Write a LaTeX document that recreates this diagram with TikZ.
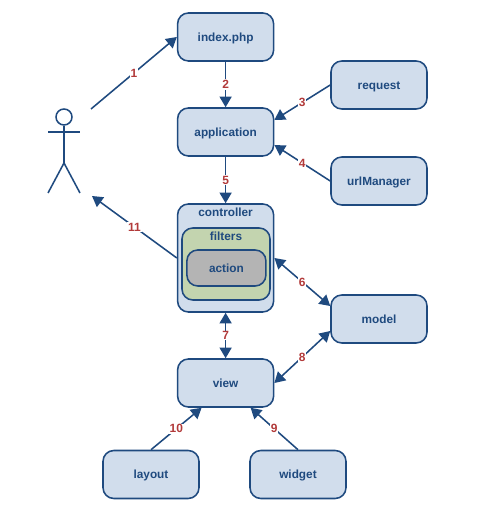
\documentclass[tikz,border=0pt]{standalone}
\usepackage{fontspec}
\setmainfont{Liberation Sans}
\usetikzlibrary{arrows.meta}
\definecolor{myblue}{HTML}{1F4A7F}
\definecolor{myfill}{HTML}{D1DDEC}
\definecolor{mygreen}{HTML}{C3D4AF}
\definecolor{mygray}{HTML}{B4B4B4}
\definecolor{myred}{HTML}{B23A3A}
\begin{document}
\begin{tikzpicture}[
    mybox/.style={draw=myblue, fill=myfill, line width=1.1pt, rounded corners=0.27cm, text=myblue,
        font=\fontsize{8.4}{10}\selectfont\bfseries, minimum width=2.4cm, minimum height=1.2cm, inner sep=0pt,
        text height=7pt, text depth=1.2pt},
    mytitle/.style={text=myblue, font=\fontsize{8.4}{10}\selectfont\bfseries, inner sep=0pt},
    myline/.style={draw=myblue, line width=1.1pt},
    myarrow/.style={myline, -{Triangle[length=7.5pt, width=8.5pt]}},
    mytwoway/.style={myline, {Triangle[length=7.5pt, width=8.5pt]}-{Triangle[length=7.5pt, width=8.5pt]}},
    mylabel/.style={fill=white, text=myred, font=\fontsize{8.5}{10}\selectfont\bfseries, inner sep=0.6pt}
]
    \useasboundingbox (0, 0) rectangle (12.375, 13.25);

    % Boxes
    \node[mybox] (index) at (5.64, 12.325) {index.php};
    \node[mybox] (application) at (5.64, 9.95) {application};
    \node[mybox] (request) at (9.475, 11.125) {request};
    \node[mybox] (urlmanager) at (9.475, 8.725) {urlManager};
    \node[mybox] (model) at (9.475, 5.275) {model};
    \node[mybox] (view) at (5.64, 3.675) {view};
    \node[mybox] (layout) at (3.775, 1.3875) {layout};
    \node[mybox] (widget) at (7.45, 1.3875) {widget};

    % Controller with its nested boxes
    \node[mybox, minimum height=2.7cm] (controller) at (5.64, 6.8) {};
    \node[mybox, fill=mygreen, minimum width=2.2cm, minimum height=1.8cm] (filters) at (5.65, 6.65) {};
    \node[mybox, fill=mygray, minimum width=1.975cm, minimum height=0.9cm] (action) at (5.66, 6.55) {action};
    \node[mytitle] (controllertitle) at (5.64, 7.95) {controller};
    \node[mytitle] (filterstitle) at (5.65, 7.35) {filters};

    % Actor
    \node[draw=myblue, line width=1.1pt, circle, minimum size=0.4cm, inner sep=0pt] (actorhead) at (1.6, 10.325) {};
    \coordinate (actorhip) at (1.6, 9.175);
    \coordinate (armleft) at (1.2, 9.95);
    \coordinate (armright) at (2, 9.95);
    \coordinate (legleft) at (1.2, 8.425);
    \coordinate (legright) at (2, 8.425);
    \draw[myline] (actorhead) -- (actorhip);
    \draw[myline] (armleft) -- (armright);
    \draw[myline] (legleft) -- (actorhip) -- (legright);
    \coordinate (actorout) at (2.275, 10.525);
    \coordinate (actorin) at (2.3, 8.35);

    % Connectors
    \draw[myarrow] (actorout) -- node[mylabel] (step1) {1} (index.west);
    \draw[myarrow] (index) -- node[mylabel] (step2) {2} (application);
    \draw[myarrow] (request.west) -- node[mylabel] (step3) {3} ([yshift=0.3cm]application.east);
    \draw[myarrow] (urlmanager.west) -- node[mylabel] (step4) {4} ([yshift=-0.325cm]application.east);
    \draw[myarrow] (application) -- node[mylabel] (step5) {5} (controller);
    \draw[mytwoway] (controller.east) -- node[mylabel] (step6) {6} ([yshift=0.325cm]model.west);
    \draw[mytwoway] (controller) -- node[mylabel] (step7) {7} (view);
    \draw[mytwoway] ([yshift=-0.3cm]model.west) -- node[mylabel] (step8) {8} (view.east);
    \draw[myarrow] (widget.north) -- node[mylabel] (step9) {9} ([xshift=0.625cm]view.south);
    \draw[myarrow] (layout.north) -- node[mylabel] (step10) {10} ([xshift=-0.6cm]view.south);
    \draw[myarrow] (controller.west) -- node[mylabel] (step11) {11} (actorin);
\end{tikzpicture}
\end{document}
